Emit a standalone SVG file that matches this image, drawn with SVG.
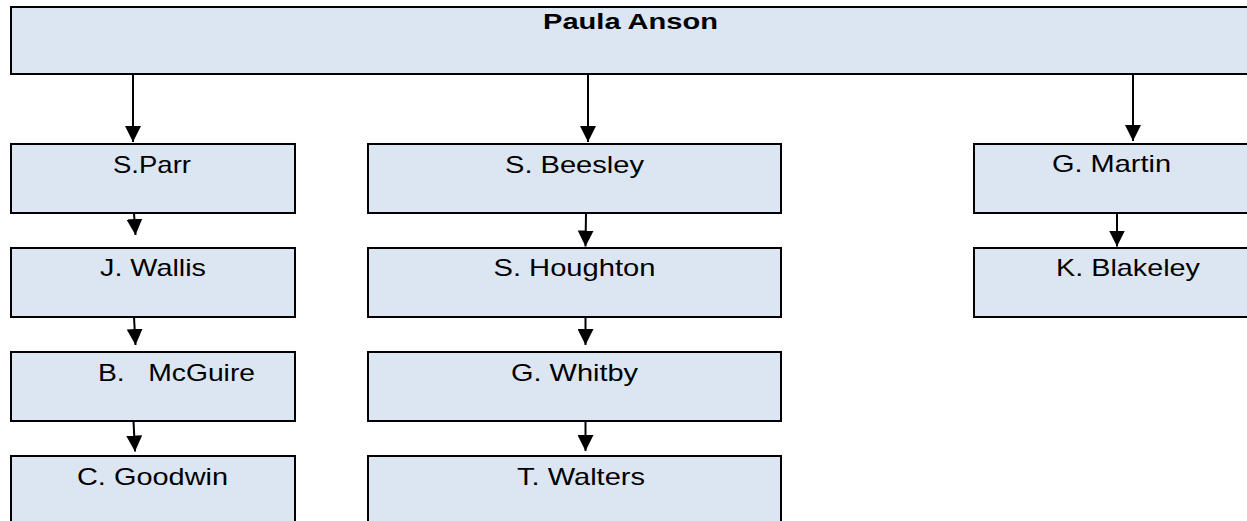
<svg xmlns="http://www.w3.org/2000/svg" width="1247" height="521" viewBox="0 0 1247 521">
<style>
.box{fill:#dce6f2;stroke:#000;stroke-width:2}
.t{font-family:"Liberation Sans",Arial,sans-serif;font-size:24px;fill:#000}
.title{font-family:"Liberation Sans",Arial,sans-serif;font-size:22px;font-weight:bold;fill:#000}
.c{stroke:#000;stroke-width:2;fill:none;marker-end:url(#ah)}
</style>
<defs>
<marker id="ah" markerUnits="userSpaceOnUse" markerWidth="16" markerHeight="16" viewBox="0 0 16 16" refX="16" refY="8" orient="auto">
<path d="M0,0 L16,8 L0,16 z" fill="#000"/>
</marker>
</defs>
<rect width="1247" height="521" fill="#fff"/>
<g id="connectors">
<line class="c" x1="133" y1="75" x2="133" y2="142"/>
<line class="c" x1="588" y1="75" x2="588" y2="142"/>
<line class="c" x1="1133" y1="75" x2="1133" y2="141"/>
<line class="c" x1="134" y1="213" x2="135.5" y2="235"/>
<line class="c" x1="134" y1="317" x2="135.5" y2="345"/>
<line class="c" x1="133.5" y1="421" x2="135" y2="451.5"/>
<line class="c" x1="586" y1="213" x2="585.5" y2="246.5"/>
<line class="c" x1="585.5" y1="317" x2="585.5" y2="345"/>
<line class="c" x1="585.5" y1="421" x2="585.5" y2="451"/>
<line class="c" x1="1117" y1="213" x2="1117" y2="246.5"/>
</g>
<g id="paula-anson">
<rect class="box" x="11" y="7" width="1260" height="67"/>
<text class="title" x="543" y="29" textLength="175" lengthAdjust="spacingAndGlyphs">Paula Anson</text>
</g>
<g id="s-parr">
<rect class="box" x="11" y="144" width="284" height="69"/>
<text class="t" x="113" y="172.5" textLength="78" lengthAdjust="spacingAndGlyphs">S.Parr</text>
</g>
<g id="j-wallis">
<rect class="box" x="11" y="248" width="284" height="69"/>
<text class="t" x="100" y="276" textLength="106" lengthAdjust="spacingAndGlyphs">J. Wallis</text>
</g>
<g id="b-mcguire">
<rect class="box" x="11" y="352" width="284" height="69"/>
<text class="t" x="98" y="381" textLength="157" lengthAdjust="spacingAndGlyphs" xml:space="preserve">B.   McGuire</text>
</g>
<g id="c-goodwin">
<rect class="box" x="11" y="456" width="284" height="100"/>
<text class="t" x="77" y="484.5" textLength="151" lengthAdjust="spacingAndGlyphs">C. Goodwin</text>
</g>
<g id="s-beesley">
<rect class="box" x="368" y="144" width="413" height="69"/>
<text class="t" x="505" y="172.5" textLength="139" lengthAdjust="spacingAndGlyphs">S. Beesley</text>
</g>
<g id="s-houghton">
<rect class="box" x="368" y="248" width="413" height="69"/>
<text class="t" x="493.5" y="276" textLength="162" lengthAdjust="spacingAndGlyphs">S. Houghton</text>
</g>
<g id="g-whitby">
<rect class="box" x="368" y="352" width="413" height="69"/>
<text class="t" x="511" y="381" textLength="127" lengthAdjust="spacingAndGlyphs">G. Whitby</text>
</g>
<g id="t-walters">
<rect class="box" x="368" y="456" width="413" height="100"/>
<text class="t" x="517" y="484.5" textLength="128" lengthAdjust="spacingAndGlyphs">T. Walters</text>
</g>
<g id="g-martin">
<rect class="box" x="974" y="144" width="300" height="69"/>
<text class="t" x="1052" y="172" textLength="119" lengthAdjust="spacingAndGlyphs">G. Martin</text>
</g>
<g id="k-blakeley">
<rect class="box" x="974" y="248" width="300" height="69"/>
<text class="t" x="1056" y="275.5" textLength="144" lengthAdjust="spacingAndGlyphs">K. Blakeley</text>
</g>
</svg>
